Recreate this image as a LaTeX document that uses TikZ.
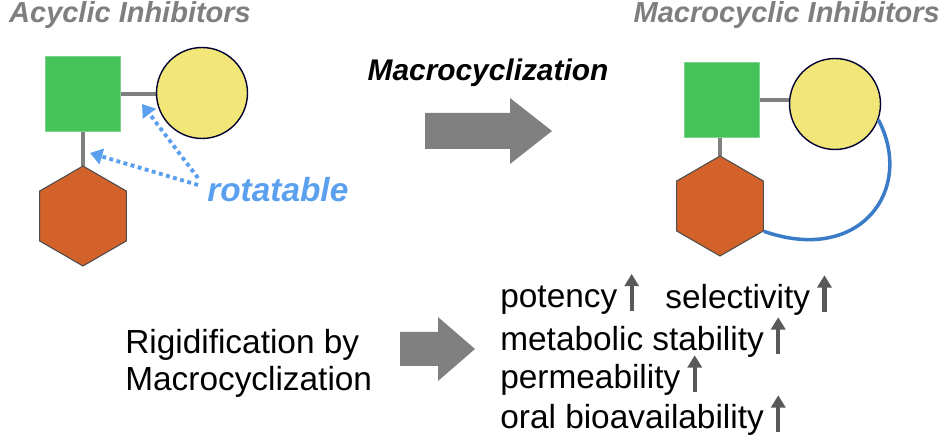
\documentclass[tikz,border=0pt]{standalone}
\usepackage{fontspec}
\setmainfont{Liberation Sans}
\usetikzlibrary{shapes.geometric,arrows.meta}
\definecolor{sqg}{HTML}{45C35A}
\definecolor{cy}{HTML}{F2E678}
\definecolor{hexo}{HTML}{D2622A}
\definecolor{rb}{HTML}{5B9FEF}
\definecolor{cb}{HTML}{3A7CC8}
\definecolor{tg}{HTML}{7F7F7F}
\begin{document}
\begin{tikzpicture}[x=0.02cm,y=-0.02cm,
 sq/.style={draw=sqg!70!white,fill=sqg,minimum size=1.5cm,inner sep=0,line width=0.6pt},
 ci/.style={circle,draw=black!80!blue,fill=cy,minimum size=1.82cm,inner sep=0,line width=0.8pt},
 hx/.style={regular polygon,regular polygon sides=6,shape border rotate=30,draw=black!70,fill=hexo,minimum size=2.0cm,inner sep=0,line width=0.6pt},
 bond/.style={draw=black!50,line width=2.2pt},
 ttl/.style={text=tg,font=\fontsize{16.5}{18}\selectfont\bfseries\itshape},
 txt/.style={font=\fontsize{19}{22}\selectfont,anchor=west,inner sep=0},
 big/.style={fill=black!50,draw=none},
 up/.style={draw=black!65,line width=2.4pt,-{Triangle[length=7pt,width=8pt]}}]
\useasboundingbox (0,0) rectangle (949,445);
% titles
\node[ttl,anchor=west] (t1) at (3,15) {Acyclic Inhibitors};
\node[ttl,anchor=east] (t2) at (946,15) {Macrocyclic Inhibitors};
% left molecule
\coordinate (b1) at (83,166);
\coordinate (b2) at (720,156);
\draw[bond] (83,94) -- (202,94);
\draw[bond] (83,94) -- (b1);
\node[sq] (s1) at (83,94) {};
\node[ci] (c1) at (202,93) {};
\node[hx] (h1) at (83,216) {};
\node[text=rb,font=\fontsize{19}{22}\selectfont\bfseries\itshape,anchor=west,inner sep=0] (rot) at (207,190) {rotatable};
\coordinate (r1) at (198,178);
\coordinate (r2) at (198,185);
\draw[rb,line width=2.2pt,dotted,-{Triangle[length=7pt,width=9pt]}] (r1) -- (142,104);
\draw[rb,line width=2.2pt,dotted,-{Triangle[length=7pt,width=9pt]}] (r2) -- (90,153);
% macrocyclization arrow
\node[font=\fontsize{17}{20}\selectfont\bfseries\itshape,inner sep=0] (mac) at (488,73) {Macrocyclization};
\fill[big] (425,113) -- (510,113) -- (510,98) -- (552,131) -- (510,164) -- (510,149) -- (425,149) -- cycle;
% right molecule
\draw[bond] (722,100) -- (835,100);
\draw[bond] (720,100) -- (b2);
\node[sq] (s2) at (722,100) {};
\node[ci] (c2) at (835,104) {};
\node[hx] (h2) at (720,206) {};
\draw[cb,line width=2pt] (c2.-20) .. controls (915,190) and (860,265) .. (h2.corner 5);
% lower
\node[txt] (rg1) at (125,345) {Rigidification by};
\node[txt] (rg2) at (125,382) {Macrocyclization};
\fill[big] (400,332) -- (438,332) -- (438,317) -- (475,349) -- (438,381) -- (438,366) -- (400,366) -- cycle;
\node[txt] (p1) at (500,300) {potency};
\node[txt] (p2) at (665,300) {selectivity};
\node[txt] (p3) at (500,342) {metabolic stability};
\node[txt] (p4) at (500,380) {permeability};
\node[txt] (p5) at (500,420) {oral bioavailability};
\foreach \n in {p1,p2,p3,p4,p5}{
 \coordinate (\n a) at ([xshift=8pt,yshift=-2pt]\n.base east);
 \coordinate (\n b) at ([xshift=8pt,yshift=19pt]\n.base east);
 \draw[up] (\n a) -- (\n b);}
\end{tikzpicture}
\end{document}
